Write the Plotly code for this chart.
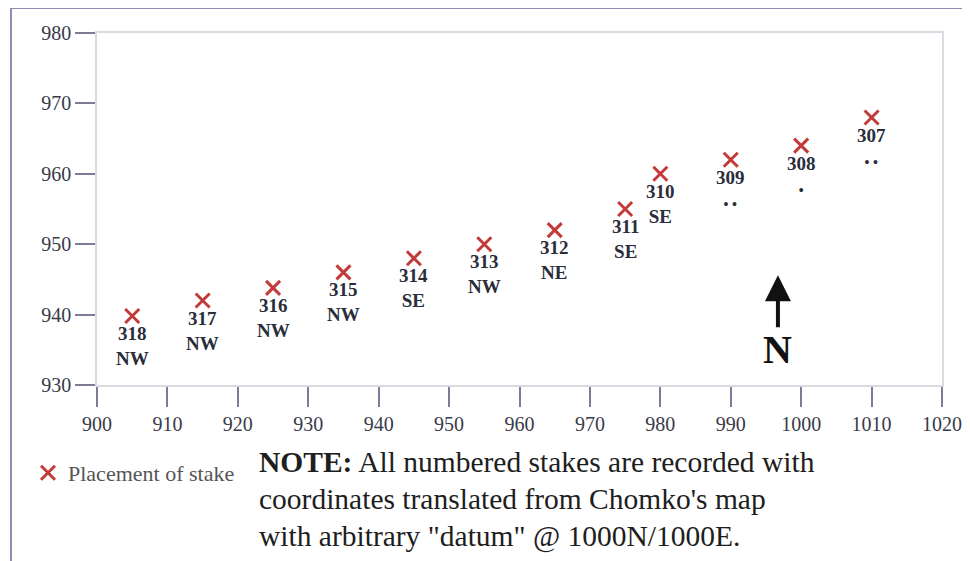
import plotly.graph_objects as go

# Data
stakes = ["318", "317", "316", "315", "314", "313", "312", "311", "310", "309", "308", "307"]
east = [905, 915, 925, 935, 945, 955, 965, 975, 980, 990, 1000, 1010]
north = [939.8, 942, 943.8, 946, 948, 950, 952, 955, 960, 962, 964, 968]
directions = ["NW", "NW", "NW", "NW", "SE", "NW", "NE", "SE", "SE", "• •", "•", "• •"]
x_ticks = list(range(900, 1021, 10))
y_ticks = list(range(930, 981, 10))

# The page body has an 8px margin, so the figure is drawn 8px in from the window corner.
OFF = 8
W, H = 970 - OFF, 561 - OFF
PLOT_L, PLOT_R, PLOT_T, PLOT_B = 97, 942, 33, 385   # in window pixels
ML, MT = PLOT_L - OFF, PLOT_T - OFF
MR, MB = 970 - PLOT_R, 561 - PLOT_B
PW, PH = PLOT_R - PLOT_L, PLOT_B - PLOT_T

def px_x(p):
    return (p - PLOT_L) / PW

def px_y(p):
    return (PLOT_B - p) / PH

SERIF = "Liberation Serif, Times New Roman, serif"
RED = "#c23a3a"
INK = "#2a2d3a"

fig = go.Figure()
fig.add_trace(go.Scatter(
    x=east, y=north, mode="markers", name="Placement of stake",
    marker=dict(symbol="x-thin", size=14, line=dict(width=3, color=RED), color=RED),
    showlegend=True,
))

annotations = []
for sx, sy, num, d in zip(east, north, stakes, directions):
    if d.startswith("•"):
        second = f"<span style='font-size:14px'><b>{d}</b></span>"
    else:
        second = f"<b>{d}</b>"
    annotations.append(dict(x=sx, y=sy, text=f"<b>{num}</b><br>{second}", showarrow=False,
                            yshift=-30, font=dict(family=SERIF, size=19, color=INK)))

# North arrow
annotations.append(dict(x=996.7, y=945.6, ax=996.7, ay=938.0, axref="x", ayref="y",
                        xref="x", yref="y", text="", showarrow=True,
                        arrowhead=2, arrowsize=1.3, arrowwidth=4, arrowcolor="#111"))
annotations.append(dict(x=996.7, y=935.0, text="<b>N</b>", showarrow=False,
                        font=dict(family=SERIF, size=40, color="#111")))

# Note
note_lines = ["<b>NOTE:</b> All numbered stakes are recorded with",
              "coordinates translated from Chomko's map",
              "with arbitrary \"datum\" @ 1000N/1000E."]
for line, ypx in zip(note_lines, [462, 499, 536]):
    annotations.append(dict(xref="paper", yref="paper", x=px_x(257), y=px_y(ypx),
                            xanchor="left", yanchor="middle", text=line, showarrow=False,
                            font=dict(family=SERIF, size=29.5, color="#1e1e1e")))

fig.update_layout(
    width=W, height=H,
    margin=dict(l=ML, r=MR, t=MT, b=MB, autoexpand=False),
    paper_bgcolor="white", plot_bgcolor="white",
    annotations=annotations,
    showlegend=True,
    legend=dict(x=px_x(28), y=px_y(473), xanchor="left", yanchor="middle",
                font=dict(family=SERIF, size=22, color="#555"),
                bgcolor="rgba(0,0,0,0)", itemwidth=30),
    shapes=[dict(type="rect", xref="paper", yref="paper",
                 x0=px_x(11), y0=px_y(8), x1=px_x(990), y1=px_y(600),
                 line=dict(color="#8e8eb4", width=2), layer="below")],
)
fig.update_xaxes(
    range=[900, 1020], tickvals=x_ticks, ticks="outside", ticklen=20, tickwidth=1.5,
    tickcolor="#7c7c98", showgrid=False, zeroline=False,
    showline=True, linecolor="#dadae2", linewidth=1.5, mirror=True,
    tickfont=dict(family=SERIF, size=20, color="#3a3a48"),
)
fig.update_yaxes(
    range=[930, 980], tickvals=y_ticks, ticks="outside", ticklen=20, tickwidth=1.5,
    tickcolor="#7c7c98", showgrid=False, zeroline=False,
    showline=True, linecolor="#dadae2", linewidth=1.5, mirror=True,
    tickfont=dict(family=SERIF, size=20, color="#3a3a48"),
)

fig.write_html("out.html")
